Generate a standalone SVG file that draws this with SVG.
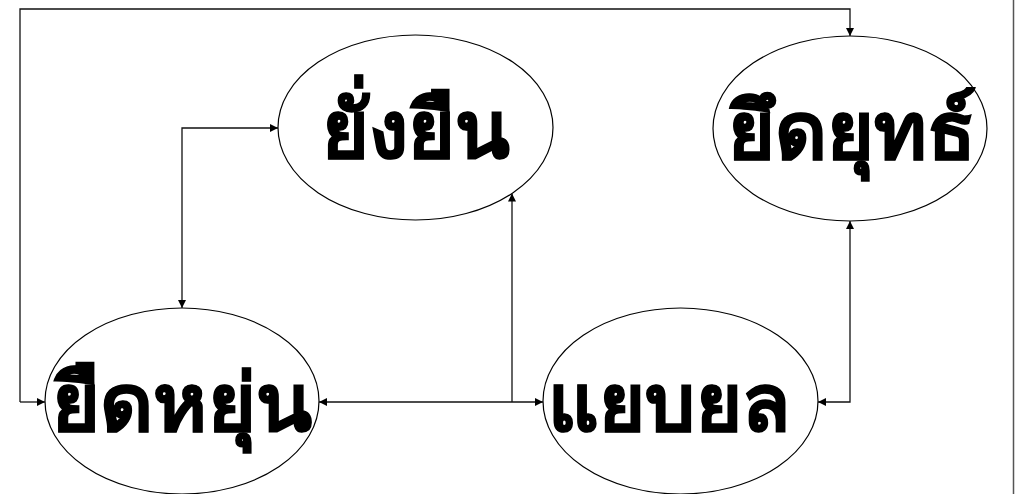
<svg xmlns="http://www.w3.org/2000/svg" width="1022" height="494" viewBox="0 0 1022 494">
<defs>
<style>
.node ellipse{fill:#fff;stroke:#000;stroke-width:1.2}
.node text{font-family:"DejaVu Sans","Noto Sans",sans-serif;font-weight:bold;font-size:80px;fill:#000;stroke:#000;stroke-width:1.2;text-anchor:middle}
.conn path{fill:none;stroke:#111;stroke-width:1.3}
</style>
<marker id="ah" viewBox="0 0 10 10" refX="10" refY="5" markerWidth="8" markerHeight="8" markerUnits="userSpaceOnUse" orient="auto-start-reverse">
<path d="M0,0 L10,5 L0,10 z" fill="#000"/>
</marker>
</defs>
<rect width="1022" height="494" fill="#fff"/>
<line x1="1013.5" y1="0" x2="1013.5" y2="494" stroke="#555" stroke-width="1.5"/>
<g id="n-yangyuen" class="node">
<ellipse cx="415.5" cy="127.5" rx="137.5" ry="92.5"/>
<text x="415.5" y="158">ยั่งยืน</text>
</g>
<g id="n-yuetyut" class="node">
<ellipse cx="850" cy="128.5" rx="137" ry="92.5"/>
<text x="852" y="159">ยึดยุทธ์</text>
</g>
<g id="n-yuethyun" class="node">
<ellipse cx="182" cy="401" rx="137" ry="93"/>
<text x="182" y="431" textLength="260" lengthAdjust="spacingAndGlyphs">ยืดหยุ่น</text>
</g>
<g id="n-yaebyon" class="node">
<ellipse cx="680.5" cy="401" rx="137.5" ry="93"/>
<text x="669" y="431" textLength="242" lengthAdjust="spacingAndGlyphs">แยบยล</text>
</g>
<g id="connectors" class="conn">
<path d="M20,402 L20,9 L850,9 L850,36" marker-end="url(#ah)"/>
<path d="M20,402 L45,402" marker-end="url(#ah)"/>
<path d="M182,308 L182,128 L278,128" marker-start="url(#ah)" marker-end="url(#ah)"/>
<path d="M319,402 L543,402" marker-start="url(#ah)" marker-end="url(#ah)"/>
<path d="M512,402 L512,193.5" marker-end="url(#ah)"/>
<path d="M818,402 L850,402 L850,221" marker-start="url(#ah)" marker-end="url(#ah)"/>
</g>
</svg>
